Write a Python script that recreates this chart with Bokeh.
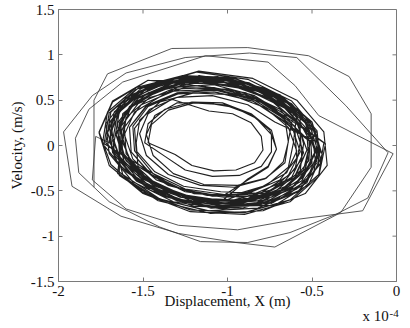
from bokeh.plotting import figure
from bokeh.models import Range1d, FixedTicker, Label
from bokeh.embed import file_html
from bokeh.resources import INLINE

# Displacement in units of 1e-4 m, velocity in m/s
# start-up (transient) loops
x_transient = [-1.79, -1.79, -1.71, -1.33, -0.88, -0.52, -0.28, -0.15, -0.15, -0.33, -0.72, -0.95, -1.29, -1.63, -1.92, -1.97,
               -1.80, -1.60, -1.25, -0.87, -0.59, -0.30, -0.05, -0.17, -0.36, -0.63, -0.88, -1.16, -1.40, -1.70, -1.88, -1.90,
               -1.82, -1.62, -1.13, -0.76, -0.60, -0.46, -0.02, -0.20, -0.61, -0.94, -1.29, -1.60, -1.80, -1.78]
v_transient = [-0.46, 0.50, 0.79, 1.07, 1.08, 0.99, 0.76, 0.35, -0.24, -0.74, -1.12, -1.07, -0.97, -0.78, -0.45, 0.15,
               0.55, 0.80, 0.97, 1.02, 0.97, 0.44, -0.08, -0.58, -0.76, -0.96, -1.07, -1.06, -0.90, -0.62, -0.30, 0.08,
               0.40, 0.70, 0.99, 0.92, 0.66, 0.33, -0.09, -0.72, -0.82, -0.93, -0.88, -0.70, -0.38, 0.10]

# steady oscillation, part A
x_band_a = [-1.70, -1.66, -1.51, -1.26, -0.98, -0.72, -0.54, -0.48, -0.56, -0.75,
            -1.01, -1.28, -1.51, -1.64, -1.65, -1.54, -1.33, -1.06, -0.80, -0.60,
            -0.55, -0.57, -0.72, -0.94, -1.20, -1.44, -1.61, -1.66, -1.59, -1.41,
            -1.15, -0.87, -0.64, -0.50, -0.48, -0.60, -0.82, -1.09, -1.36, -1.56,
            -1.72, -1.69, -1.53, -1.27, -0.97, -0.70, -0.52, -0.46, -0.53, -0.73,
            -1.03, -1.32, -1.56, -1.70, -1.72, -1.60, -1.37, -1.09, -0.81, -0.60,
            -0.51, -0.54, -0.69, -0.92, -1.19, -1.43, -1.60, -1.65, -1.58, -1.40,
            -1.17, -0.92, -0.72, -0.60, -0.59, -0.69, -0.88, -1.12, -1.35, -1.53,
            -1.54, -1.52, -1.40, -1.20, -0.98, -0.78, -0.64, -0.59, -0.65, -0.80,
            -1.02, -1.27, -1.48, -1.60, -1.61, -1.51, -1.32, -1.07, -0.83, -0.65]
v_band_a = [0.03, 0.35, 0.61, 0.73, 0.71, 0.53, 0.25, -0.08, -0.39, -0.60,
            -0.64, -0.57, -0.36, -0.07, 0.25, 0.52, 0.69, 0.71, 0.59, 0.35,
            0.02, -0.28, -0.51, -0.62, -0.60, -0.44, -0.18, 0.12, 0.40, 0.60,
            0.75, 0.67, 0.46, 0.16, -0.17, -0.44, -0.61, -0.64, -0.51, -0.27,
            0.03, 0.37, 0.63, 0.76, 0.73, 0.55, 0.26, -0.09, -0.41, -0.63,
            -0.70, -0.62, -0.40, -0.09, 0.24, 0.53, 0.70, 0.73, 0.60, 0.35,
            0.04, -0.26, -0.50, -0.62, -0.59, -0.43, -0.17, 0.14, 0.43, 0.63,
            0.66, 0.59, 0.41, 0.14, -0.14, -0.38, -0.53, -0.55, -0.44, -0.23,
            0.03, 0.28, 0.48, 0.58, 0.56, 0.42, 0.20, -0.06, -0.30, -0.46,
            -0.61, -0.54, -0.36, -0.09, 0.20, 0.45, 0.60, 0.62, 0.51, 0.29]

# steady oscillation, part B
x_band_b = [-0.51, -0.55, -0.70, -0.94, -1.21, -1.46, -1.63, -1.69, -1.62, -1.43,
            -1.16, -0.87, -0.63, -0.48, -0.47, -0.59, -0.81, -1.10, -1.38, -1.59,
            -1.68, -1.65, -1.51, -1.27, -1.00, -0.76, -0.59, -0.53, -0.60, -0.79,
            -1.02, -1.25, -1.45, -1.57, -1.58, -1.48, -1.30, -1.07, -0.84, -0.66,
            -0.64, -0.67, -0.77, -0.94, -1.14, -1.32, -1.44, -1.48, -1.43, -1.30,
            -1.12, -0.96, -0.83, -0.74, -0.74, -0.80, -0.93, -1.09, -1.25, -1.37,
            -1.49, -1.47, -1.37, -1.21, -1.03, -0.86, -0.74, -0.71, -0.76, -0.88,
            -1.03, -1.26, -1.45, -1.57, -1.58, -1.48, -1.30, -1.08, -0.85, -0.68,
            -0.51, -0.54, -0.68, -0.91, -1.18, -1.42, -1.58, -1.63, -1.57, -1.39,
            -1.18, -0.89, -0.66, -0.51, -0.50, -0.62, -0.84, -1.12, -1.39, -1.60]
v_band_b = [0.04, -0.27, -0.52, -0.64, -0.61, -0.45, -0.17, 0.15, 0.44, 0.65,
            0.76, 0.68, 0.46, 0.14, -0.19, -0.48, -0.66, -0.69, -0.56, -0.30,
            0.05, 0.36, 0.60, 0.72, 0.69, 0.53, 0.26, -0.05, -0.35, -0.55,
            -0.57, -0.51, -0.33, -0.07, 0.20, 0.44, 0.58, 0.61, 0.50, 0.29,
            0.04, -0.18, -0.36, -0.44, -0.43, -0.31, -0.11, 0.12, 0.33, 0.47,
            0.47, 0.42, 0.30, 0.12, -0.07, -0.23, -0.33, -0.34, -0.27, -0.12,
            0.03, 0.24, 0.40, 0.48, 0.47, 0.35, 0.17, -0.04, -0.24, -0.38,
            -0.56, -0.49, -0.32, -0.07, 0.20, 0.43, 0.57, 0.59, 0.49, 0.28,
            0.04, -0.26, -0.49, -0.61, -0.59, -0.43, -0.16, 0.14, 0.43, 0.63,
            0.74, 0.66, 0.45, 0.14, -0.19, -0.47, -0.65, -0.67, -0.55, -0.29]

# steady oscillation, part C
x_band_c = [-1.74, -1.71, -1.54, -1.27, -0.97, -0.69, -0.50, -0.44, -0.52, -0.72,
            -1.00, -1.29, -1.53, -1.67, -1.69, -1.57, -1.34, -1.06, -0.78, -0.57,
            -0.57, -0.60, -0.74, -0.96, -1.21, -1.44, -1.60, -1.66, -1.59, -1.42,
            -1.16, -0.89, -0.66, -0.52, -0.51, -0.62, -0.84, -1.11, -1.37, -1.58,
            -1.70, -1.67, -1.51, -1.26, -0.96, -0.70, -0.51, -0.45, -0.53, -0.73,
            -1.03, -1.30, -1.54, -1.67, -1.69, -1.57, -1.36, -1.08, -0.81, -0.61,
            -0.64, -0.66, -0.78, -0.96, -1.16, -1.35, -1.48, -1.52, -1.47, -1.33,
            -1.11, -0.97, -0.86, -0.80, -0.79, -0.84, -0.95, -1.08, -1.21, -1.31,
            -1.47, -1.45, -1.35, -1.20, -1.02, -0.86, -0.75, -0.71, -0.76, -0.88,
            -1.03, -1.28, -1.49, -1.62, -1.63, -1.53, -1.33, -1.08, -0.84, -0.65]
v_band_c = [0.02, 0.37, 0.64, 0.77, 0.75, 0.56, 0.26, -0.10, -0.43, -0.66,
            -0.67, -0.59, -0.37, -0.06, 0.27, 0.56, 0.73, 0.76, 0.63, 0.38,
            0.03, -0.26, -0.49, -0.60, -0.58, -0.42, -0.17, 0.13, 0.40, 0.60,
            0.70, 0.62, 0.41, 0.12, -0.20, -0.48, -0.64, -0.67, -0.55, -0.30,
            0.04, 0.37, 0.63, 0.76, 0.74, 0.56, 0.27, -0.07, -0.39, -0.61,
            -0.67, -0.59, -0.38, -0.08, 0.25, 0.52, 0.69, 0.72, 0.59, 0.35,
            0.05, -0.19, -0.37, -0.46, -0.44, -0.32, -0.11, 0.13, 0.35, 0.51,
            0.38, 0.35, 0.25, 0.10, -0.05, -0.19, -0.27, -0.28, -0.22, -0.10,
            0.03, 0.23, 0.39, 0.47, 0.45, 0.34, 0.17, -0.04, -0.23, -0.37,
            -0.61, -0.54, -0.35, -0.08, 0.21, 0.46, 0.62, 0.64, 0.53, 0.31]

# steady oscillation, part D
x_band_d = [-0.43, -0.46, -0.63, -0.90, -1.22, -1.50, -1.69, -1.76, -1.68, -1.47,
            -1.14, -0.89, -0.69, -0.57, -0.56, -0.66, -0.85, -1.09, -1.32, -1.50,
            -1.73, -1.70, -1.54, -1.28, -0.98, -0.71, -0.53, -0.47, -0.54, -0.74,
            -1.02, -1.25, -1.44, -1.55, -1.56, -1.47, -1.29, -1.07, -0.85, -0.68,
            -0.51, -0.54, -0.70, -0.94, -1.22, -1.48, -1.66, -1.71, -1.64, -1.45,
            -1.17, -0.85, -0.59, -0.43, -0.41, -0.54, -0.79, -1.10, -1.41, -1.64,
            -1.64, -1.62, -1.47, -1.25, -0.99, -0.75, -0.59, -0.53, -0.60, -0.78,
            -1.04, -1.26, -1.43, -1.54, -1.55, -1.46, -1.30, -1.09, -0.88, -0.72,
            -0.46, -0.49, -0.65, -0.91, -1.20, -1.46, -1.65, -1.71, -1.63, -1.43,
            -1.18, -0.88, -0.62, -0.47, -0.45, -0.58, -0.82, -1.12, -1.42, -1.65]
v_band_d = [0.03, -0.32, -0.60, -0.74, -0.71, -0.52, -0.21, 0.15, 0.49, 0.72,
            0.65, 0.58, 0.40, 0.13, -0.15, -0.39, -0.54, -0.56, -0.45, -0.24,
            0.02, 0.36, 0.62, 0.75, 0.72, 0.54, 0.25, -0.10, -0.42, -0.64,
            -0.54, -0.48, -0.31, -0.06, 0.21, 0.43, 0.57, 0.59, 0.49, 0.29,
            0.04, -0.28, -0.53, -0.65, -0.63, -0.46, -0.18, 0.15, 0.45, 0.67,
            0.82, 0.74, 0.50, 0.15, -0.22, -0.53, -0.72, -0.75, -0.61, -0.33,
            0.05, 0.35, 0.58, 0.69, 0.67, 0.51, 0.25, -0.05, -0.33, -0.53,
            -0.51, -0.45, -0.29, -0.06, 0.19, 0.40, 0.53, 0.55, 0.45, 0.26,
            0.03, -0.30, -0.56, -0.69, -0.67, -0.49, -0.20, 0.14, 0.46, 0.68,
            0.81, 0.73, 0.49, 0.16, -0.20, -0.50, -0.69, -0.72, -0.58, -0.31]

# steady oscillation, part E
x_band_e = [-1.63, -1.60, -1.46, -1.24, -0.99, -0.76, -0.60, -0.55, -0.62, -0.79,
            -1.00, -1.27, -1.50, -1.63, -1.64, -1.53, -1.32, -1.05, -0.79, -0.59,
            -0.61, -0.64, -0.77, -0.97, -1.20, -1.42, -1.56, -1.61, -1.55, -1.39,
            -1.17, -0.87, -0.62, -0.47, -0.46, -0.58, -0.82, -1.11, -1.40, -1.62,
            -1.67, -1.64, -1.49, -1.25, -0.97, -0.72, -0.54, -0.48, -0.56, -0.74,
            -1.03, -1.29, -1.50, -1.63, -1.64, -1.54, -1.34, -1.08, -0.84, -0.64,
            -0.42, -0.46, -0.63, -0.90, -1.22, -1.50, -1.70, -1.76, -1.68, -1.47,
            -1.15, -0.89, -0.66, -0.53, -0.52, -0.63, -0.84, -1.10, -1.36, -1.55,
            -1.62, -1.60, -1.46, -1.25, -1.00, -0.78, -0.62, -0.57, -0.64, -0.80,
            -1.01, -1.30, -1.54, -1.68, -1.70, -1.58, -1.35, -1.07, -0.79, -0.58]
v_band_e = [0.02, 0.31, 0.53, 0.64, 0.62, 0.46, 0.21, -0.08, -0.35, -0.54,
            -0.64, -0.57, -0.36, -0.07, 0.25, 0.52, 0.69, 0.71, 0.59, 0.35,
            0.03, -0.24, -0.44, -0.55, -0.53, -0.38, -0.15, 0.12, 0.37, 0.55,
            0.77, 0.69, 0.46, 0.14, -0.21, -0.51, -0.69, -0.72, -0.59, -0.32,
            0.05, 0.37, 0.61, 0.74, 0.71, 0.54, 0.27, -0.06, -0.36, -0.57,
            -0.61, -0.54, -0.35, -0.07, 0.23, 0.49, 0.64, 0.67, 0.55, 0.32,
            0.02, -0.34, -0.62, -0.76, -0.73, -0.53, -0.22, 0.14, 0.48, 0.72,
            0.71, 0.63, 0.43, 0.14, -0.17, -0.43, -0.59, -0.62, -0.50, -0.26,
            0.03, 0.31, 0.53, 0.64, 0.61, 0.46, 0.22, -0.07, -0.33, -0.52,
            -0.69, -0.61, -0.39, -0.08, 0.25, 0.54, 0.71, 0.74, 0.61, 0.36]

x_ticks = [-2, -1.5, -1, -0.5, 0]
x_tick_labels = ["-2", "-1.5", "-1", "-0.5", "0"]
y_ticks = [-1.5, -1, -0.5, 0, 0.5, 1, 1.5]
y_tick_labels = ["-1.5", "-1", "-0.5", "0", "0.5", "1", "1.5"]

FONT = "Liberation Serif"
AXIS_COLOR = "#7a7a7a"
TEXT_COLOR = "#111111"
TICK_PX = 4

X0, X1, Y0, Y1 = -2, 0, -1.5, 1.5
p = figure(width=410, height=328, output_backend="svg", toolbar_location=None,
           x_range=Range1d(X0, X1), y_range=Range1d(Y0, Y1),
           min_border_left=58, min_border_right=14, min_border_top=9, min_border_bottom=47)
p.background_fill_color = "white"
p.border_fill_color = "white"
p.outline_line_color = AXIS_COLOR
p.xgrid.visible = False
p.ygrid.visible = False

x_band = x_band_a + x_band_b + x_band_c + x_band_d + x_band_e
v_band = v_band_a + v_band_b + v_band_c + v_band_d + v_band_e
# the transient joins the steady band: draw it thinner, then the dense band on top
p.line(x_transient + x_band[:1], v_transient + v_band[:1], line_color="#3a3a3a", line_width=0.85)
p.line(x_band, v_band, line_color="#0d0d0d", line_width=1.15, line_alpha=0.92)

for ax, ticks, labels in ((p.xaxis[0], x_ticks, x_tick_labels), (p.yaxis[0], y_ticks, y_tick_labels)):
    ax.ticker = FixedTicker(ticks=ticks)
    ax.major_label_overrides = {t: l for t, l in zip(ticks, labels)}
    ax.major_tick_in = TICK_PX
    ax.major_tick_out = 0
    ax.minor_tick_in = 0
    ax.minor_tick_out = 0
    ax.axis_line_color = AXIS_COLOR
    ax.major_tick_line_color = AXIS_COLOR
    ax.major_label_text_font = FONT
    ax.major_label_text_font_size = "15px"
    ax.major_label_text_color = TEXT_COLOR
    ax.major_label_standoff = 4
    ax.axis_label_text_font = FONT
    ax.axis_label_text_font_size = "15px"
    ax.axis_label_text_font_style = "normal"
    ax.axis_label_text_color = TEXT_COLOR

p.xaxis.axis_label = "Displacement, X (m)"
p.xaxis.axis_label_standoff = -6
p.yaxis.axis_label = "Velocity, (m/s)"
p.yaxis.axis_label_standoff = 3

# mirrored inward tick marks on the top and right edges of the box
dy_tick = TICK_PX * (Y1 - Y0) / 272
dx_tick = TICK_PX * (X1 - X0) / 338
p.segment(x0=x_ticks, y0=[Y1] * len(x_ticks), x1=x_ticks, y1=[Y1 - dy_tick] * len(x_ticks),
          line_color=AXIS_COLOR, line_width=1)
p.segment(x0=[X1] * len(y_ticks), y0=y_ticks, x1=[X1 - dx_tick] * len(y_ticks), y1=y_ticks,
          line_color=AXIS_COLOR, line_width=1)

# axis scale factor "x 10^-4", placed in side panels so it is not clipped to the frame
p.add_layout(Label(x=304, y=12, x_units="screen", y_units="screen", text="x 10",
                   text_align="left", text_baseline="alphabetic",
                   text_font=FONT, text_font_size="15px", text_color=TEXT_COLOR), "below")
p.add_layout(Label(x=-7, y=-32, x_units="screen", y_units="screen", text="-4",
                   text_align="left", text_baseline="alphabetic",
                   text_font=FONT, text_font_size="11px", text_color=TEXT_COLOR), "right")

open("out.html", "w").write(file_html(p, INLINE))
